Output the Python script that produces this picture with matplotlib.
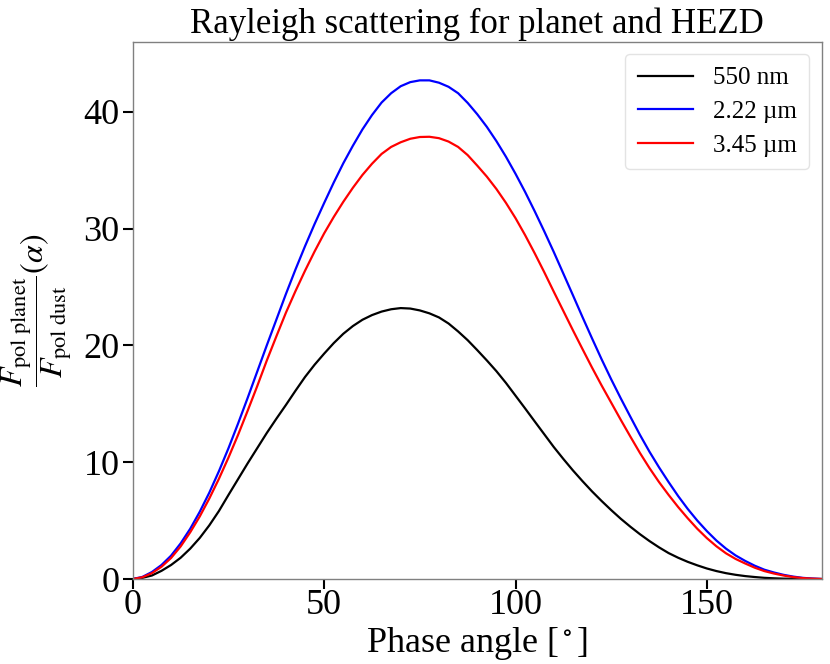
import matplotlib
matplotlib.use("Agg")
import matplotlib.pyplot as plt

# phase angle grid (degrees), 2.5 deg spacing
phase = [i * 2.5 for i in range(73)]

ratio_550nm = [0, 0.1, 0.3, 0.7, 1.2, 1.82, 2.6, 3.52, 4.6, 5.82, 7.2, 8.55, 9.9,
               11.2, 12.5, 13.72, 14.9, 16.12, 17.3, 18.35, 19.3, 20.2, 21.0, 21.66,
               22.2, 22.6, 22.9, 23.1, 23.2, 23.16, 23.0, 22.75, 22.4, 21.88, 21.2,
               20.45, 19.6, 18.72, 17.8, 16.79, 15.7, 14.61, 13.5, 12.4, 11.3, 10.28,
               9.3, 8.38, 7.5, 6.68, 5.9, 5.16, 4.48, 3.84, 3.25, 2.71, 2.22, 1.82,
               1.47, 1.17, 0.9, 0.68, 0.5, 0.36, 0.25, 0.17, 0.1, 0.06, 0.03, 0.02,
               0.01, 0.005, 0]

ratio_222um = [0, 0.18, 0.6, 1.2, 2.0, 3.05, 4.3, 5.76, 7.4, 9.23, 11.2, 13.31, 15.5,
               17.75, 20.0, 22.2, 24.4, 26.5, 28.5, 30.4, 32.2, 33.95, 35.6, 37.1,
               38.5, 39.73, 40.8, 41.6, 42.2, 42.55, 42.7, 42.7, 42.5, 42.15, 41.6,
               40.77, 39.8, 38.72, 37.5, 36.16, 34.7, 33.15, 31.5, 29.78, 28.0, 26.15,
               24.3, 22.43, 20.6, 18.81, 17.1, 15.47, 13.9, 12.35, 10.9, 9.56, 8.3,
               7.1, 6.0, 5.0, 4.1, 3.29, 2.6, 2.02, 1.55, 1.14, 0.8, 0.56, 0.36, 0.21,
               0.1, 0.04, 0]

ratio_345um = [0, 0.15, 0.5, 1.05, 1.8, 2.79, 4.0, 5.36, 6.9, 8.58, 10.4, 12.34, 14.4,
               16.51, 18.7, 20.77, 22.8, 24.65, 26.4, 28.05, 29.6, 31.0, 32.3, 33.5,
               34.6, 35.56, 36.4, 37.0, 37.4, 37.7, 37.85, 37.87, 37.75, 37.46, 37.0,
               36.3, 35.4, 34.46, 33.4, 32.21, 30.9, 29.45, 27.9, 26.28, 24.6, 22.95,
               21.3, 19.69, 18.1, 16.57, 15.1, 13.63, 12.2, 10.8, 9.5, 8.3, 7.2, 6.16,
               5.2, 4.3, 3.5, 2.8, 2.2, 1.72, 1.33, 0.97, 0.68, 0.47, 0.3, 0.17, 0.08,
               0.03, 0]

labels = ["550 nm", "2.22 µm", "3.45 µm"]
colors = ["black", "blue", "red"]
xticks = [0, 50, 100, 150]
yticks = [0, 10, 20, 30, 40]

plt.rcParams["font.family"] = ["Liberation Serif", "DejaVu Serif"]
plt.rcParams["mathtext.fontset"] = "stix"

fig = plt.figure(figsize=(8.3, 6.64), dpi=100)
ax = fig.add_axes([0.160, 0.128, 0.830, 0.809])

for ys, lab, c in zip([ratio_550nm, ratio_222um, ratio_345um], labels, colors):
    ax.plot(phase, ys, color=c, lw=1.6, label=lab)

ax.set_xlim(0, 180)
ax.set_ylim(0, 46)
ax.set_xticks(xticks)
ax.set_yticks(yticks)
ax.tick_params(axis="both", which="major", labelsize=26, length=7.5, width=1.5,
               direction="out", color="black")
ax.tick_params(axis="x", pad=0)
ax.tick_params(axis="y", pad=2)
for sp in ax.spines.values():
    sp.set_color("#808080")
    sp.set_linewidth(1.0)

ax.set_title("Rayleigh scattering for planet and HEZD", fontsize=25, pad=6)
ax.set_xlabel(r"Phase angle [$^\circ$]", fontsize=26, labelpad=2)
ax.set_ylabel(r"$\dfrac{F_{\rm pol\ planet}}{F_{\rm pol\ dust}}(\alpha)$", fontsize=23)
ax.yaxis.set_label_coords(-0.085, 0.5)

leg = ax.legend(loc="upper right", fontsize=18, frameon=True, fancybox=True,
                handlelength=2.2, borderpad=0.5, labelspacing=0.45)
leg.get_frame().set_edgecolor("#dddddd")

fig.savefig("out.png", dpi=100)
